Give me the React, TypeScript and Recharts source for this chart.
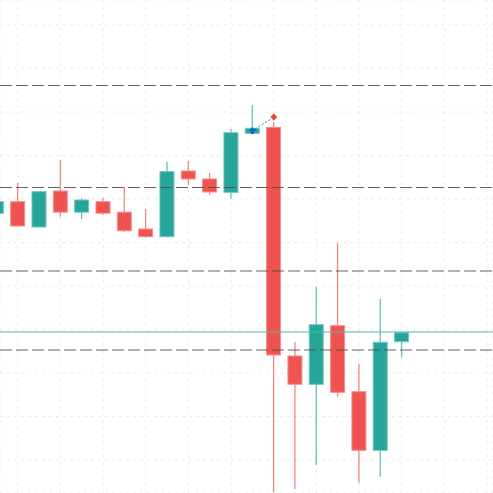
import React from "react";
import {
  ComposedChart,
  Bar,
  XAxis,
  YAxis,
  CartesianGrid,
  ReferenceLine,
  ReferenceDot,
} from "recharts";

const opens = [156.7, 159.38, 153.56, 161.84, 156.97, 159.38, 156.97, 153.1, 151.33, 166.44, 164.6, 161.54, 175.1, 176.48, 123.91, 117.4, 130.87, 115.7, 102.23, 127.2];
const closes = [159.4, 153.79, 161.68, 156.97, 159.77, 156.74, 152.71, 151.33, 166.28, 164.6, 161.61, 175.24, 176.25, 124.14, 117.4, 131.1, 115.56, 102.23, 127.06, 129.26];
const highs = [159.6, 163.68, 161.75, 168.97, 160.23, 160.23, 162.76, 157.7, 168.57, 168.74, 165.98, 176.09, 181.61, 177.7, 127.13, 139.77, 149.89, 122.07, 137.01, 129.3];
const lows = [156.5, 153.68, 153.5, 155.93, 155.4, 156.32, 152.41, 151.1, 151.15, 163.22, 160.92, 160.0, 175.1, 92.64, 93.33, 98.85, 114.55, 94.78, 96.16, 123.61];

const levels = [186.09, 162.64, 143.45, 125.29];
const lastPrice = 129.43;
const priceTicks = [100, 110, 120, 130, 140, 150, 160, 170, 180, 190, 200];
const timeTicks = [1, 3, 5, 7, 9, 11, 13, 15, 17, 19, 21, 23];
const entrySignal = { i: 12, price: 175.63 };
const exitSignal = { i: 13, price: 178.85 };
const signalPath = [
  { x: 12.12, y: 176.09 },
  { x: 12.87, y: 178.39 },
];

const data = opens.map((o, i) => ({
  i,
  open: o,
  close: closes[i],
  high: highs[i],
  low: lows[i],
}));

const UP = "#26a69a";
const DOWN = "#ef5350";

const Candle = (props: any) => {
  const { x, y, width, height, payload } = props;
  if (x == null || y == null) return null;
  const top = Math.min(y, y + height);
  const bot = Math.max(y, y + height);
  const { open, close, high, low } = payload;
  const span = high - low || 1;
  const px = (v: number) => top + ((high - v) / span) * (bot - top);
  const up = close >= open;
  const color = up ? UP : DOWN;
  const light = up ? "#6cc5bc" : "#f58f8d";
  const cx = x + width / 2;
  const bTop = px(Math.max(open, close));
  const bBot = px(Math.min(open, close));
  return (
    <g>
      <line x1={cx} x2={cx} y1={top} y2={bot} stroke={color} strokeOpacity={0.7} strokeWidth={1.3} />
      <rect
        x={x + 0.5}
        y={bTop}
        width={width - 1}
        height={Math.max(bBot - bTop, 1)}
        fill={color}
        stroke={light}
        strokeWidth={1}
      />
    </g>
  );
};

const BuyMarker = (props: any) => {
  const { cx, cy } = props;
  if (cx == null) return null;
  return (
    <path
      d={`M${cx} ${cy - 4} L${cx + 4} ${cy} L${cx + 1.5} ${cy} L${cx + 1.5} ${cy + 3} L${cx - 1.5} ${cy + 3} L${cx - 1.5} ${cy} L${cx - 4} ${cy} Z`}
      fill="#1565c0"
    />
  );
};

const SellMarker = (props: any) => {
  const { cx, cy } = props;
  if (cx == null) return null;
  return (
    <path
      d={`M${cx} ${cy - 3.5} L${cx + 3.5} ${cy} L${cx} ${cy + 3.5} L${cx - 3.5} ${cy} Z`}
      fill="#e8472f"
    />
  );
};

export default function App() {
  return (
    <div style={{ position: "absolute", left: 0, top: 0, width: 493, height: 493, background: "#fff" }}>
      <ComposedChart width={493} height={493} data={data} margin={{ top: 0, right: 0, bottom: 0, left: 0 }}>
        <CartesianGrid stroke="#ececec" strokeDasharray="3 4" />
        <XAxis
          dataKey="i"
          type="number"
          domain={[0.164, 23.28]}
          allowDataOverflow
          ticks={timeTicks}
          hide
        />
        <YAxis
          type="number"
          domain={[92.41, 205.75]}
          allowDataOverflow
          ticks={priceTicks}
          hide
        />
        {levels.map((lv) => (
          <ReferenceLine key={lv} y={lv} stroke="#4a4a4a" strokeOpacity={0.85} strokeDasharray="12 4" strokeWidth={1.2} />
        ))}
        <ReferenceLine y={lastPrice} stroke="#4db6ac" strokeWidth={1} />
        <Bar
          dataKey={(d: any) => [d.low, d.high]}
          barSize={15}
          shape={<Candle />}
          isAnimationActive={false}
        />
        <ReferenceLine segment={signalPath} stroke="#1e6fd0" strokeDasharray="2 2" strokeWidth={1} />
        <ReferenceDot x={entrySignal.i} y={entrySignal.price} shape={<BuyMarker />} />
        <ReferenceDot x={exitSignal.i} y={exitSignal.price} shape={<SellMarker />} />
      </ComposedChart>
    </div>
  );
}
